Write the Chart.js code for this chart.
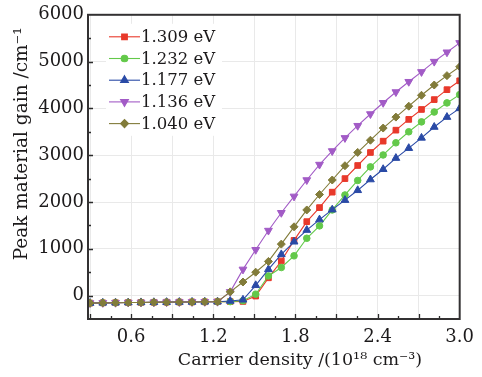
<!DOCTYPE html>
<html>
<head>
<meta charset="utf-8">
<script src="https://cdn.jsdelivr.net/npm/chart.js@4.4.1/dist/chart.umd.min.js"></script>
<style>
  html, body { margin: 0; padding: 0; background: #fff; }
  #wrap { width: 482px; height: 377px; }
</style>
</head>
<body>
<div id="wrap"><canvas id="c" width="482" height="377"></canvas></div>
<script>
// Carrier density (10^18 cm^-3)
const carrierDensity = [0.300, 0.393, 0.486, 0.579, 0.672, 0.766, 0.859, 0.952, 1.045, 1.138,
                        1.231, 1.324, 1.417, 1.510, 1.603, 1.697, 1.790, 1.883, 1.976, 2.069,
                        2.162, 2.255, 2.348, 2.441, 2.534, 2.628, 2.721, 2.814, 2.907, 3.000];

// Peak material gain (cm^-1) for each transition energy
const gain1309 = [-160, -155, -152, -148, -146, -143, -140, -138, -136, -133,
                  -130, -128, -125, -10, 380, 740, 1180, 1580, 1880, 2210,
                  2500, 2780, 3058, 3300, 3535, 3765, 3977, 4188, 4400, 4590];
const gain1232 = [-160, -155, -152, -148, -146, -143, -140, -138, -136, -133,
                  -130, -128, -110, 30, 420, 600, 850, 1225, 1490, 1830,
                  2150, 2460, 2750, 3005, 3265, 3500, 3712, 3922, 4117, 4294];
const gain1177 = [-160, -155, -152, -148, -146, -143, -140, -138, -136, -133,
                  -130, -115, -90, 220, 560, 880, 1150, 1400, 1624, 1836,
                  2040, 2250, 2480, 2700, 2938, 3150, 3370, 3602, 3814, 4000];
const gain1136 = [-160, -155, -152, -148, -146, -143, -140, -138, -136, -133,
                  -130, 80, 560, 980, 1390, 1770, 2120, 2470, 2800, 3090,
                  3370, 3630, 3880, 4120, 4350, 4570, 4780, 5000, 5200, 5400];
const gain1040 = [-160, -155, -152, -148, -146, -143, -140, -138, -136, -133,
                  -130, 80, 290, 500, 730, 1100, 1470, 1830, 2160, 2470,
                  2775, 3060, 3320, 3580, 3814, 4047, 4280, 4500, 4700, 4890];

const seriesLabels = ['1.309 eV', '1.232 eV', '1.177 eV', '1.136 eV', '1.040 eV'];

// Grid / label positions
const xTicks = [0.3, 0.6, 0.9, 1.2, 1.5, 1.8, 2.1, 2.4, 2.7, 3.0];
const xLabelTicks = [0.6, 1.2, 1.8, 2.4, 3.0];
const yTicks = [0, 1000, 2000, 3000, 4000, 5000, 6000];

const FONT = '"DejaVu Serif", "Liberation Serif", serif';
const INK = '#1c1a1b';

function pts(values) {
  return carrierDensity.map((x, i) => ({ x: x, y: values[i] }));
}

const styles = [
  { color: '#e8392b', pointStyle: 'rect', radius: 4, rotation: 0, order: 5 },
  { color: '#63c94a', pointStyle: 'circle', radius: 3.3, rotation: 0, order: 4 },
  { color: '#2a4aa6', pointStyle: 'triangle', radius: 4.5, rotation: 0, order: 3 },
  { color: '#a25bc6', pointStyle: 'triangle', radius: 4.5, rotation: 180, order: 2 },
  { color: '#827c3a', pointStyle: 'rectRot', radius: 4, rotation: 0, order: 1 }
];
const seriesValues = [gain1309, gain1232, gain1177, gain1136, gain1040];

const datasets = seriesValues.map((vals, k) => ({
  label: seriesLabels[k],
  data: pts(vals),
  borderColor: styles[k].color,
  backgroundColor: styles[k].color,
  pointBackgroundColor: styles[k].color,
  pointBorderColor: styles[k].color,
  pointStyle: styles[k].pointStyle,
  pointRotation: styles[k].rotation,
  pointRadius: styles[k].radius,
  pointBorderWidth: 1,
  borderWidth: 1.1,
  tension: 0,
  order: styles[k].order
}));

// Frame, inward tick marks, legend and axis titles
const decorations = {
  id: 'decorations',
  afterDatasetsDraw(chart) {
    const { ctx, chartArea: a, scales: { x, y } } = chart;
    ctx.save();

    // legend box
    const lx = a.left + 18, ly = a.top + 9;
    ctx.fillStyle = '#ffffff';
    ctx.fillRect(lx, ly, 116, 112);
    const rowH = 21.7;
    chart.data.datasets.forEach((ds, k) => {
      const cy = a.top + 22 + k * rowH;
      const x0 = a.left + 21, x1 = x0 + 31;
      ctx.strokeStyle = ds.borderColor;
      ctx.lineWidth = 1.1;
      ctx.beginPath();
      ctx.moveTo(x0, cy);
      ctx.lineTo(x1, cy);
      ctx.stroke();
      ctx.fillStyle = ds.pointBackgroundColor;
      ctx.strokeStyle = ds.pointBorderColor;
      Chart.helpers.drawPoint(ctx, {
        pointStyle: ds.pointStyle,
        rotation: ds.pointRotation,
        radius: ds.pointRadius,
        borderWidth: 1
      }, (x0 + x1) / 2, cy);
      ctx.fillStyle = INK;
      ctx.font = '16.5px ' + FONT;
      ctx.textAlign = 'left';
      ctx.textBaseline = 'middle';
      ctx.fillText(ds.label, x1 + 1, cy + 1);
    });

    // inward ticks
    ctx.strokeStyle = '#2b2b2b';
    ctx.lineWidth = 1.3;
    ctx.beginPath();
    for (let k = 2; k < 20; k++) {
      const px = Math.round(x.getPixelForValue(k * 0.15)) + 0.5;
      const len = (k % 2 === 0) ? 5 : 3;
      ctx.moveTo(px, a.bottom);
      ctx.lineTo(px, a.bottom - len);
    }
    for (let k = 0; k < 12; k++) {
      const v = k * 500;
      const py = Math.round(y.getPixelForValue(v)) + 0.5;
      const len = (k % 2 === 0) ? 5 : 3;
      ctx.moveTo(a.left, py);
      ctx.lineTo(a.left + len, py);
    }
    ctx.stroke();

    // frame
    ctx.strokeStyle = '#333132';
    ctx.lineWidth = 2;
    ctx.strokeRect(a.left, a.top, a.right - a.left, a.bottom - a.top);
    ctx.restore();
  },
  afterDraw(chart) {
    const { ctx, chartArea: a } = chart;
    ctx.save();
    ctx.fillStyle = INK;
    ctx.textAlign = 'center';
    ctx.textBaseline = 'middle';
    ctx.font = '17.5px ' + FONT;
    ctx.fillText('Carrier density /(10\u00B9\u2078 cm\u207B\u00B3)', a.left + 212, a.bottom + 41);
    ctx.translate(22, a.top + 129);
    ctx.rotate(-Math.PI / 2);
    ctx.font = '18.5px ' + FONT;
    ctx.fillText('Peak material gain /cm\u207B\u00B9', 0, 0);
    ctx.restore();
  }
};

new Chart(document.getElementById('c'), {
  type: 'line',
  data: { datasets: datasets },
  options: {
    responsive: false,
    animation: false,
    layout: { padding: { left: 0, right: 17, top: 13, bottom: 0 } },
    plugins: { legend: { display: false }, tooltip: { enabled: false } },
    scales: {
      x: {
        type: 'linear',
        min: 0.285,
        max: 3.0,
        afterBuildTicks(scale) { scale.ticks = xTicks.map(v => ({ value: v })); },
        afterFit(scale) { scale.height = 58; },
        grid: { color: '#e9e9e9', lineWidth: 1, drawTicks: false },
        border: { display: false },
        ticks: {
          padding: 8,
          color: INK,
          font: { family: FONT, size: 18 },
          maxRotation: 0,
          autoSkip: false,
          callback(v) {
            return xLabelTicks.some(t => Math.abs(t - v) < 1e-6) ? v.toFixed(1) : '';
          }
        }
      },
      y: {
        type: 'linear',
        min: -500,
        max: 6000,
        afterBuildTicks(scale) { scale.ticks = yTicks.map(v => ({ value: v })); },
        afterFit(scale) { scale.width = 88; },
        grid: { color: '#e9e9e9', lineWidth: 1, drawTicks: false },
        border: { display: false },
        ticks: {
          padding: 4,
          color: INK,
          font: { family: FONT, size: 18 },
          autoSkip: false,
          callback(v) { return String(v); }
        }
      }
    }
  },
  plugins: [decorations]
});
</script>
</body>
</html>
